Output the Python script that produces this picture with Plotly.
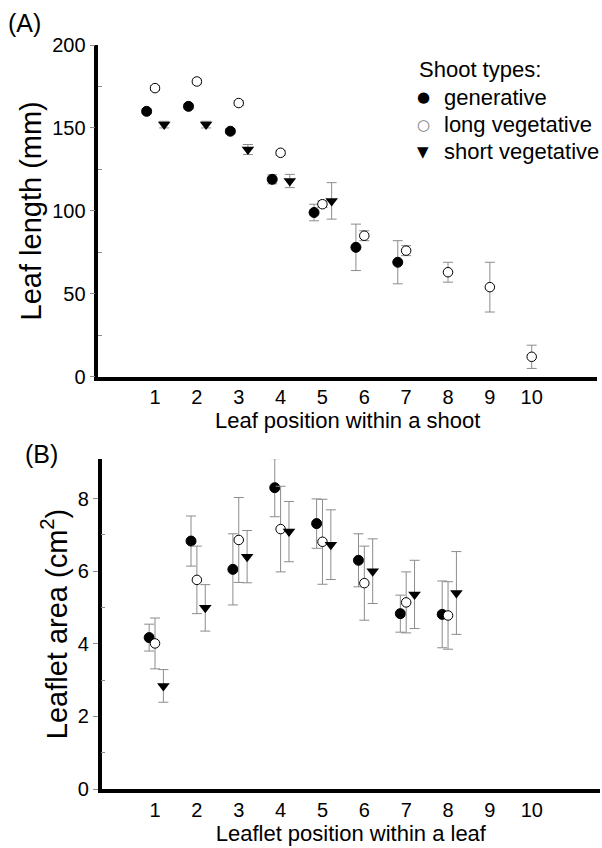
import plotly.graph_objects as go

# ---------------- data ----------------
# Panel A: leaf length (mm) by leaf position within a shoot
leaf_pos_gen = [1, 2, 3, 4, 5, 6, 7]
gen_len = [160, 163, 148, 119, 99, 78, 69]
gen_len_err = [1.5, 1.5, 1.5, 2.7, 5, 14, 13]

leaf_pos_long = [1, 2, 3, 4, 5, 6, 7, 8, 9, 10]
long_len = [174, 178, 165, 135, 104, 85, 76, 63, 54, 12]
long_len_err = [1.5, 1.5, 1.5, 1.5, 2, 3, 3, 6, 15, 7]

leaf_pos_short = [1, 2, 3, 4, 5]
short_len = [152, 152, 137, 118, 106]
short_len_err = [2, 2, 3, 4, 11]

# Panel B: leaflet area (cm2) by leaflet position within a leaf
leaflet_pos = [1, 2, 3, 4, 5, 6, 7, 8]
gen_area = [4.17, 6.83, 6.05, 8.30, 7.31, 6.30, 4.83, 4.81]
gen_area_err = [0.37, 0.69, 0.98, 0.80, 0.68, 0.73, 0.51, 0.92]
long_area = [4.01, 5.76, 6.86, 7.16, 6.81, 5.67, 5.14, 4.78]
long_area_err = [0.70, 0.93, 1.17, 1.18, 1.17, 1.02, 0.84, 0.93]
short_area = [2.84, 4.99, 6.40, 7.09, 6.73, 6.00, 5.36, 5.40]
short_area_err = [0.45, 0.64, 0.72, 0.83, 0.96, 0.89, 0.94, 1.14]

x_ticks = [1, 2, 3, 4, 5, 6, 7, 8, 9, 10]
series_names = ["generative", "long vegetative", "short vegetative"]
legend_title = "Shoot types:"
legend_glyphs = ["\u25CF", "\u25CB", "\u25BC"]

# horizontal dodge of the three series (axis units)
dodge_A = [-0.2, 0.0, 0.22]
dodge_B = [-0.14, 0.0, 0.2]

# ---------------- styles ----------------
FONT = "Arial, Liberation Sans, Helvetica, sans-serif"
ERR_COLOR = "#8c8c8c"
styles = [
    dict(symbol="circle", size=10, color="black", line=dict(color="black", width=1)),
    dict(symbol="circle", size=9.5, color="white", line=dict(color="black", width=1)),
    dict(symbol="triangle-down", size=11, color="black", line=dict(color="black", width=0)),
]
glyph_colors = ["black", "#777777", "black"]

def err(arr):
    return dict(type="data", array=arr, visible=True, color=ERR_COLOR, thickness=1, width=5)

fig = go.Figure()

panelA = [(leaf_pos_gen, gen_len, gen_len_err),
          (leaf_pos_long, long_len, long_len_err),
          (leaf_pos_short, short_len, short_len_err)]
panelB = [(leaflet_pos, gen_area, gen_area_err),
          (leaflet_pos, long_area, long_area_err),
          (leaflet_pos, short_area, short_area_err)]

for i, (xs, ys, es) in enumerate(panelA):
    fig.add_trace(go.Scatter(
        x=[v + dodge_A[i] for v in xs], y=ys, mode="markers",
        marker=styles[i], error_y=err(es), name=series_names[i],
        legendgroup=series_names[i], showlegend=False,
        xaxis="x", yaxis="y"))

for i, (xs, ys, es) in enumerate(panelB):
    fig.add_trace(go.Scatter(
        x=[v + dodge_B[i] for v in xs], y=ys, mode="markers",
        marker=styles[i], error_y=err(es), name=series_names[i],
        legendgroup=series_names[i], showlegend=False,
        xaxis="x2", yaxis="y2"))

W, H = 602, 848

def px_x(p):
    return p / W

def px_y(p):
    return 1 - p / H

tickfont = dict(family=FONT, size=20, color="black")
titlefont_x = dict(family=FONT, size=22, color="black")
titlefont_y = dict(family=FONT, size=29, color="black")

common_x = dict(
    showgrid=False, zeroline=False, showline=True, linecolor="black", linewidth=3.5,
    tickmode="array", tickvals=x_ticks, ticks="", tickfont=tickfont, automargin=False,
)
common_y = dict(
    showgrid=False, zeroline=False, showline=True, linecolor="black", linewidth=3.5,
    ticks="outside", ticklen=5, tickwidth=1, tickcolor=ERR_COLOR, tickfont=tickfont,
    automargin=False,
)

annotations = [
    dict(text="(A)", x=px_x(24), y=px_y(23), xref="paper", yref="paper",
         xanchor="center", yanchor="middle", showarrow=False,
         font=dict(family=FONT, size=25, color="black")),
    dict(text="(B)", x=px_x(41), y=px_y(454), xref="paper", yref="paper",
         xanchor="center", yanchor="middle", showarrow=False,
         font=dict(family=FONT, size=25, color="black")),
    dict(text=legend_title, x=px_x(417), y=px_y(70), xref="paper", yref="paper",
         xanchor="left", yanchor="middle", showarrow=False,
         font=dict(family=FONT, size=22, color="black")),
]
legend_rows_y = [97, 124.5, 152]
for i, name in enumerate(series_names):
    annotations.append(dict(
        text=legend_glyphs[i], x=px_x(423), y=px_y(legend_rows_y[i]), xref="paper", yref="paper",
        xanchor="center", yanchor="middle", showarrow=False,
        font=dict(family="DejaVu Sans", size=15, color=glyph_colors[i])))
    annotations.append(dict(
        text=name, x=px_x(442), y=px_y(legend_rows_y[i]), xref="paper", yref="paper",
        xanchor="left", yanchor="middle", showarrow=False,
        font=dict(family=FONT, size=22, color="black")))

fig.update_layout(
    width=W, height=H,
    margin=dict(l=0, r=0, t=0, b=0, autoexpand=False),
    paper_bgcolor="white", plot_bgcolor="white",
    font=dict(family=FONT, color="black"),
    showlegend=False,
    xaxis=dict(common_x, domain=[px_x(98.3), px_x(597)], range=[-0.355, 11.56],
               anchor="y",
               title=dict(text="Leaf position within a shoot", font=titlefont_x, standoff=4)),
    yaxis=dict(common_y, domain=[px_y(376.7), px_y(45)], range=[0, 200],
               anchor="x", tickvals=[0, 50, 100, 150, 200],
               minor=dict(tickvals=[25, 75, 125, 175], ticks="inside", ticklen=4,
                          tickcolor=ERR_COLOR, tickwidth=1),
               title=dict(text="Leaf length (mm)", font=titlefont_y, standoff=3)),
    xaxis2=dict(common_x, domain=[px_x(101.7), px_x(600)], range=[-0.274, 11.63],
                anchor="y2",
                title=dict(text="Leaflet position within a leaf", font=titlefont_x, standoff=4)),
    yaxis2=dict(common_y, domain=[px_y(789), px_y(459)], range=[0, 9.09],
                anchor="x2", tickvals=[0, 2, 4, 6, 8],
                minor=dict(tickvals=[1, 3, 5, 7], ticks="inside", ticklen=4,
                           tickcolor=ERR_COLOR, tickwidth=1),
                title=dict(text="Leaflet area (cm<sup>2</sup>)", font=titlefont_y, standoff=3)),
    annotations=annotations,
)

fig.write_html("out.html")
